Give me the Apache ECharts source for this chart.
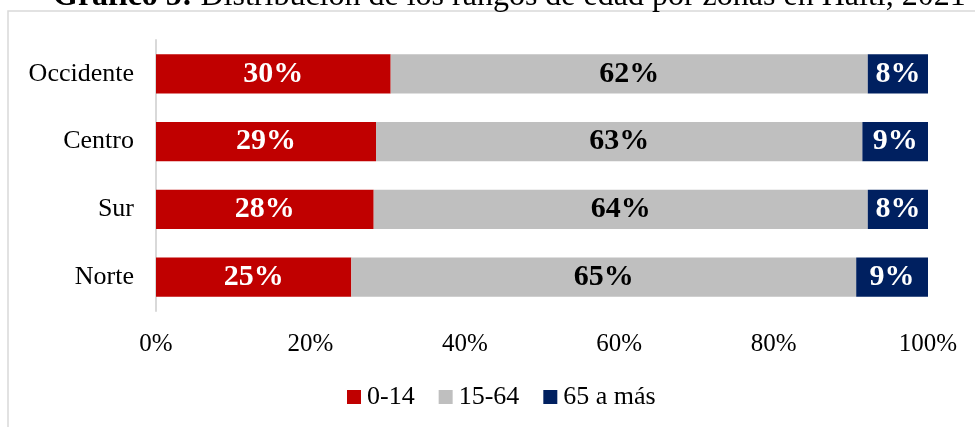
<!DOCTYPE html>
<html><head><meta charset="utf-8">
<script src="https://cdn.jsdelivr.net/npm/echarts@6/dist/echarts.min.js"></script>
<style>html,body{margin:0;padding:0;background:#fff}#c{width:975px;height:427px}</style>
</head><body><div id="c"></div>
<script>
const categories = ['Norte', 'Sur', 'Centro', 'Occidente'];
const seriesNames = ['0-14', '15-64', '65 a más'];
const s0_14 = [25.3, 28.2, 28.5, 30.4];
const s15_64 = [65.4, 64.0, 63.0, 61.8];
const s65 = [9.3, 7.8, 8.5, 7.8];
const xTicks = [0, 20, 40, 60, 80, 100];
const colors = ['#C00000', '#BFBFBF', '#002060'];
const FONT = '"Liberation Serif", "Times New Roman", serif';

const chart = echarts.init(document.getElementById('c'));
function mk(name, data, color, labelColor) {
  return {
    name, type: 'bar', stack: 'a', data, barCategoryGap: '42%',
    itemStyle: { color },
    label: {
      show: true, position: 'inside', color: labelColor,
      fontFamily: FONT, fontWeight: 'bold', fontSize: 30,
      formatter: p => Math.round(p.value) + '%'
    }
  };
}
chart.setOption({
  animation: false,
  textStyle: { fontFamily: FONT },
  graphic: [{ type: 'rect', shape: { x: 8, y: 11, width: 1000, height: 460 },
    style: { fill: 'none', stroke: '#d9d9d9', lineWidth: 1.5 }, z: -1 }],
  title: {
    text: '{b|Gráfico 5:} Distribución de los rangos de edad por zonas en Haití, 2021',
    left: 48, top: -24,
    textStyle: { fontFamily: FONT, fontSize: 32, fontWeight: 'normal', color: '#000',
      rich: { b: { fontFamily: FONT, fontSize: 32, fontWeight: 'bold', color: '#000' } } }
  },
  grid: { left: 156, right: 47, top: 40, bottom: 116 },
  xAxis: {
    type: 'value', min: 0, max: 100, interval: 20,
    axisLine: { show: false }, axisTick: { show: false }, splitLine: { show: false },
    axisLabel: { fontFamily: FONT, fontSize: 25, color: '#000', margin: 21,
      formatter: v => (xTicks.includes(v) ? v + '%' : '') }
  },
  yAxis: {
    type: 'category', data: categories,
    axisLine: { show: true, lineStyle: { color: '#d9d9d9', width: 2 } },
    axisTick: { show: false },
    axisLabel: { fontFamily: FONT, fontSize: 26, color: '#000', margin: 22 }
  },
  legend: {
    bottom: 12, left: 342, itemWidth: 14, itemHeight: 14, itemGap: 24,
    icon: 'rect',
    textStyle: { fontFamily: FONT, fontSize: 26, color: '#000', padding: [0, 0, 0, 1] },
    data: seriesNames
  },
  series: [
    mk(seriesNames[0], s0_14, colors[0], '#fff'),
    mk(seriesNames[1], s15_64, colors[1], '#000'),
    mk(seriesNames[2], s65, colors[2], '#fff')
  ]
});
</script></body></html>
